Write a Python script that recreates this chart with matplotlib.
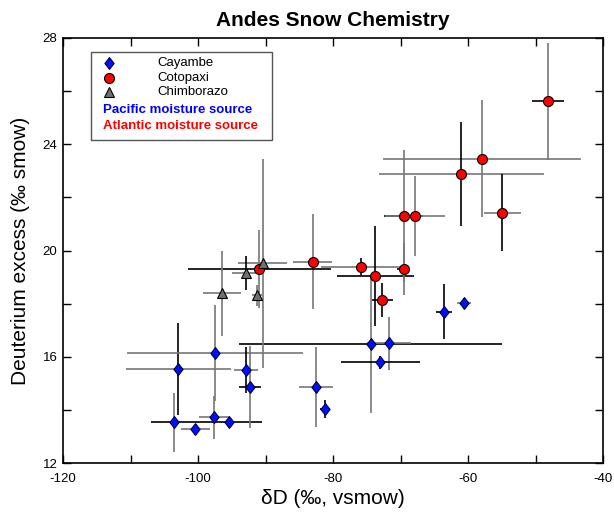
import numpy as np
import matplotlib
matplotlib.use("Agg")
import matplotlib.pyplot as plt
from matplotlib.path import Path
from matplotlib.ticker import MultipleLocator

plt.rcParams['font.family'] = ['Liberation Sans', 'DejaVu Sans']
plt.rcParams['axes.unicode_minus'] = False

# Cayambe (Pacific moisture source)
cay_x = [-103.56, -102.92, -100.4, -97.63, -97.48, -95.36, -92.89, -92.3,
         -82.52, -81.14, -74.42, -71.7, -72.99, -63.51, -60.59]
cay_y = [13.53, 15.54, 13.28, 13.72, 16.14, 13.53, 15.5, 14.85,
         14.87, 14.04, 16.47, 16.5, 15.79, 17.7, 18.01]
cay_xe = [3.4, 7.8, 2.15, 2.2, 13.05, 4.8, 1.85, 1.65,
          2.5, 0.75, 19.5, 3.2, 5.87, 1.2, 1.0]
cay_ye = [1.1, 1.72, 0.0, 0.82, 1.8, 0.0, 0.85, 1.54,
          1.5, 0.35, 2.6, 1.0, 0.25, 1.05, 0.2]

# Cotopaxi (Atlantic moisture source)
cot_x = [-48.19, -57.93, -60.99, -54.92, -69.53, -67.85, -75.8, -73.73,
         -72.7, -69.53, -83.01, -90.92]
cot_y = [25.62, 23.46, 22.89, 21.42, 21.3, 21.3, 19.39, 19.04,
         18.13, 19.3, 19.58, 19.29]
cot_xe = [2.4, 14.6, 12.25, 2.7, 2.9, 4.45, 6.0, 5.75,
          1.55, 1.0, 2.9, 10.55]
cot_ye = [2.2, 2.2, 1.95, 1.45, 2.5, 1.5, 0.32, 1.9,
          0.63, 0.97, 1.8, 1.47]

# Chimborazo
chi_x = [-90.42, -92.94, -96.4, -91.26]
chi_y = [19.52, 19.16, 18.39, 18.32]
chi_xe = [3.6, 2.0, 2.8, 0.8]
chi_ye = [3.94, 0.63, 1.6, 0.4]

# error bar colours (k = black, g = grey), x then y
cay_xc = "kggggkgkgkkgkkg"
cay_yc = "gkggggkggkggkkg"
cot_xc = "kgggkggkkkgk"
cot_yc = "ggkkggkkkggg"
chi_xc = "gggg"
chi_yc = "gkgg"

GREY = "#777777"
cmap = {"k": "black", "g": GREY}

fig = plt.figure(figsize=(6.14, 5.12), dpi=100)
ax = fig.add_axes([63/614, 49/512, 540/614, 425/512])


def bars(x, y, xe, ye, xc, yc):
    for i in range(len(x)):
        if xe[i] > 0:
            ax.errorbar(x[i], y[i], xerr=xe[i], fmt="none", ecolor=cmap[xc[i]],
                        elinewidth=1.2, capsize=0, zorder=2)
        if ye[i] > 0:
            ax.errorbar(x[i], y[i], yerr=ye[i], fmt="none", ecolor=cmap[yc[i]],
                        elinewidth=1.2, capsize=0, zorder=2)


bars(cay_x, cay_y, cay_xe, cay_ye, cay_xc, cay_yc)
bars(cot_x, cot_y, cot_xe, cot_ye, cot_xc, cot_yc)
bars(chi_x, chi_y, chi_xe, chi_ye, chi_xc, chi_yc)

diamond = Path([(0, 1), (0.78, 0), (0, -1), (-0.78, 0), (0, 1)],
               [Path.MOVETO, Path.LINETO, Path.LINETO, Path.LINETO, Path.CLOSEPOLY])

ax.plot(cay_x, cay_y, ls="none", marker=diamond, ms=8.5, mfc="#0010ff",
        mec="#000040", mew=0.8, zorder=3)
ax.plot(cot_x, cot_y, ls="none", marker="o", ms=7.2, mfc="#ff0000",
        mec="black", mew=0.8, zorder=3)
ax.plot(chi_x, chi_y, ls="none", marker="^", ms=7.5, mfc="#707070",
        mec="black", mew=0.8, zorder=3)

ax.set_xlim(-120, -40)
ax.set_ylim(12, 28)
ax.xaxis.set_major_locator(MultipleLocator(20))
ax.xaxis.set_minor_locator(MultipleLocator(10))
ax.yaxis.set_major_locator(MultipleLocator(4))
ax.yaxis.set_minor_locator(MultipleLocator(2))
ax.tick_params(which="both", direction="in", top=True, right=True,
               length=6, width=1)
ax.tick_params(axis="x", labelsize=9.5, pad=7)
ax.tick_params(axis="y", labelsize=9.5, pad=4)
for s in ax.spines.values():
    s.set_linewidth(1.2)

ax.set_title("Andes Snow Chemistry", fontsize=15, fontweight="bold", pad=9)
ax.set_xlabel("δD (‰, vsmow)", fontsize=15, labelpad=3)
ax.set_ylabel("Deuterium excess (‰ smow)", fontsize=15, labelpad=9)

# legend box drawn by hand
T = ax.transAxes
ax.add_patch(plt.Rectangle((0.0513, 0.76), 0.3363, 0.2078, transform=T,
                           fill=False, ec="#555555", lw=1.0, zorder=4))
rows = [0.9405, 0.9066, 0.8736]
ax.plot([0.0852], [rows[0]], transform=T, marker=diamond, ms=8.5, mfc="#0010ff",
        mec="#000040", mew=0.8, zorder=5, clip_on=False)
ax.plot([0.0852], [rows[1]], transform=T, marker="o", ms=7.2, mfc="#ff0000",
        mec="black", mew=0.8, zorder=5, clip_on=False)
ax.plot([0.0852], [rows[2]], transform=T, marker="^", ms=7.5, mfc="#707070",
        mec="black", mew=0.8, zorder=5, clip_on=False)
for r, name in zip(rows, ["Cayambe", "Cotopaxi", "Chimborazo"]):
    ax.text(0.1754, r, name, transform=T, fontsize=9.5, va="center", ha="left")
ax.text(0.0746, 0.8306, "Pacific moisture source", transform=T, fontsize=9.5,
        fontweight="bold", color="#0000ff", va="center", ha="left")
ax.text(0.0746, 0.7936, "Atlantic moisture source", transform=T, fontsize=9.5,
        fontweight="bold", color="#ff0000", va="center", ha="left")

fig.savefig("out.png", dpi=100)
